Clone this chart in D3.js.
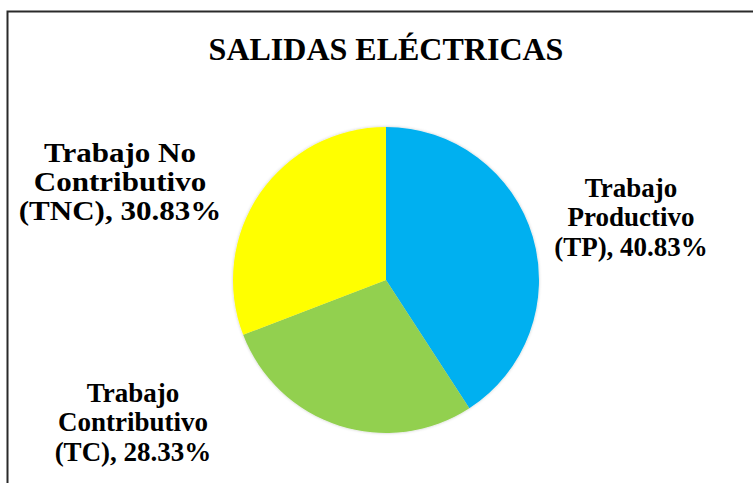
<!DOCTYPE html>
<html>
<head>
<meta charset="utf-8">
<script src="https://cdn.jsdelivr.net/npm/d3@7"></script>
<style>
  html, body { margin: 0; padding: 0; background: #fff; }
  svg { display: block; }
  text { font-family: "Liberation Serif", "Times New Roman", serif; font-weight: bold; fill: #000; }
</style>
</head>
<body>
<svg id="chart" width="753" height="483"></svg>
<script>
// ── Data ──────────────────────────────────────────────────────────────────────
const categories = ['Trabajo Productivo (TP)', 'Trabajo Contributivo (TC)', 'Trabajo No Contributivo (TNC)'];
const values     = [40.83, 28.33, 30.83];
const labelLines = [
  ['Trabajo', 'Productivo', '(TP), 40.83%'],
  ['Trabajo', 'Contributivo', '(TC), 28.33%'],
  ['Trabajo No', 'Contributivo', '(TNC), 30.83%'],
];
const colors = ['#00B0F0', '#92D050', '#FFFF00'];

// ── Layout ────────────────────────────────────────────────────────────────────
const W = 753, H = 483;
const cx = 386, cy = 280, R = 153;
// label block centres (middle-line baseline, best-fit placement like the source)
const labelAnchors = [[631, 226], [133, 431], [120, 191]];
const labelStretch = [1, 1, 1.15];   // the TNC box is drawn wider in the source
const lineH = 29.5;

const svg = d3.select('#chart');

const defs = svg.append('defs');
const f = defs.append('filter').attr('id', 'shadow')
  .attr('x', '-10%').attr('y', '-10%').attr('width', '120%').attr('height', '120%');
f.append('feDropShadow').attr('dx', 0).attr('dy', 0).attr('stdDeviation', 1.5)
  .attr('flood-color', '#000').attr('flood-opacity', 0.22);

// outer frame
svg.append('rect')
  .attr('x', 7.5).attr('y', 11.5).attr('width', W).attr('height', H)
  .attr('fill', '#fff').attr('stroke', '#2a2a2a').attr('stroke-width', 2);

svg.append('text')
  .attr('x', cx).attr('y', 60)
  .attr('text-anchor', 'middle')
  .attr('font-size', 32)
  .text('SALIDAS ELÉCTRICAS');

const pie = d3.pie().sort(null).value(d => d)(values);
const arc = d3.arc().innerRadius(0).outerRadius(R);

const g = svg.append('g').attr('transform', `translate(${cx},${cy})`);
g.append('g').attr('filter', 'url(#shadow)')
  .selectAll('path').data(pie).join('path')
  .attr('d', arc)
  .attr('fill', (d, i) => colors[i]);

const labels = svg.append('g').selectAll('text').data(labelLines).join('text')
  .attr('text-anchor', 'middle')
  .attr('font-size', 27)
  .attr('transform', (d, i) =>
    `translate(${labelAnchors[i][0]},${labelAnchors[i][1]}) scale(${labelStretch[i]},1)`);

labels.selectAll('tspan').data(d => d).join('tspan')
  .attr('x', 0)
  .attr('dy', (d, j, nodes) => j === 0 ? -(nodes.length - 1) / 2 * lineH : lineH)
  .text(d => d);
</script>
</body>
</html>
